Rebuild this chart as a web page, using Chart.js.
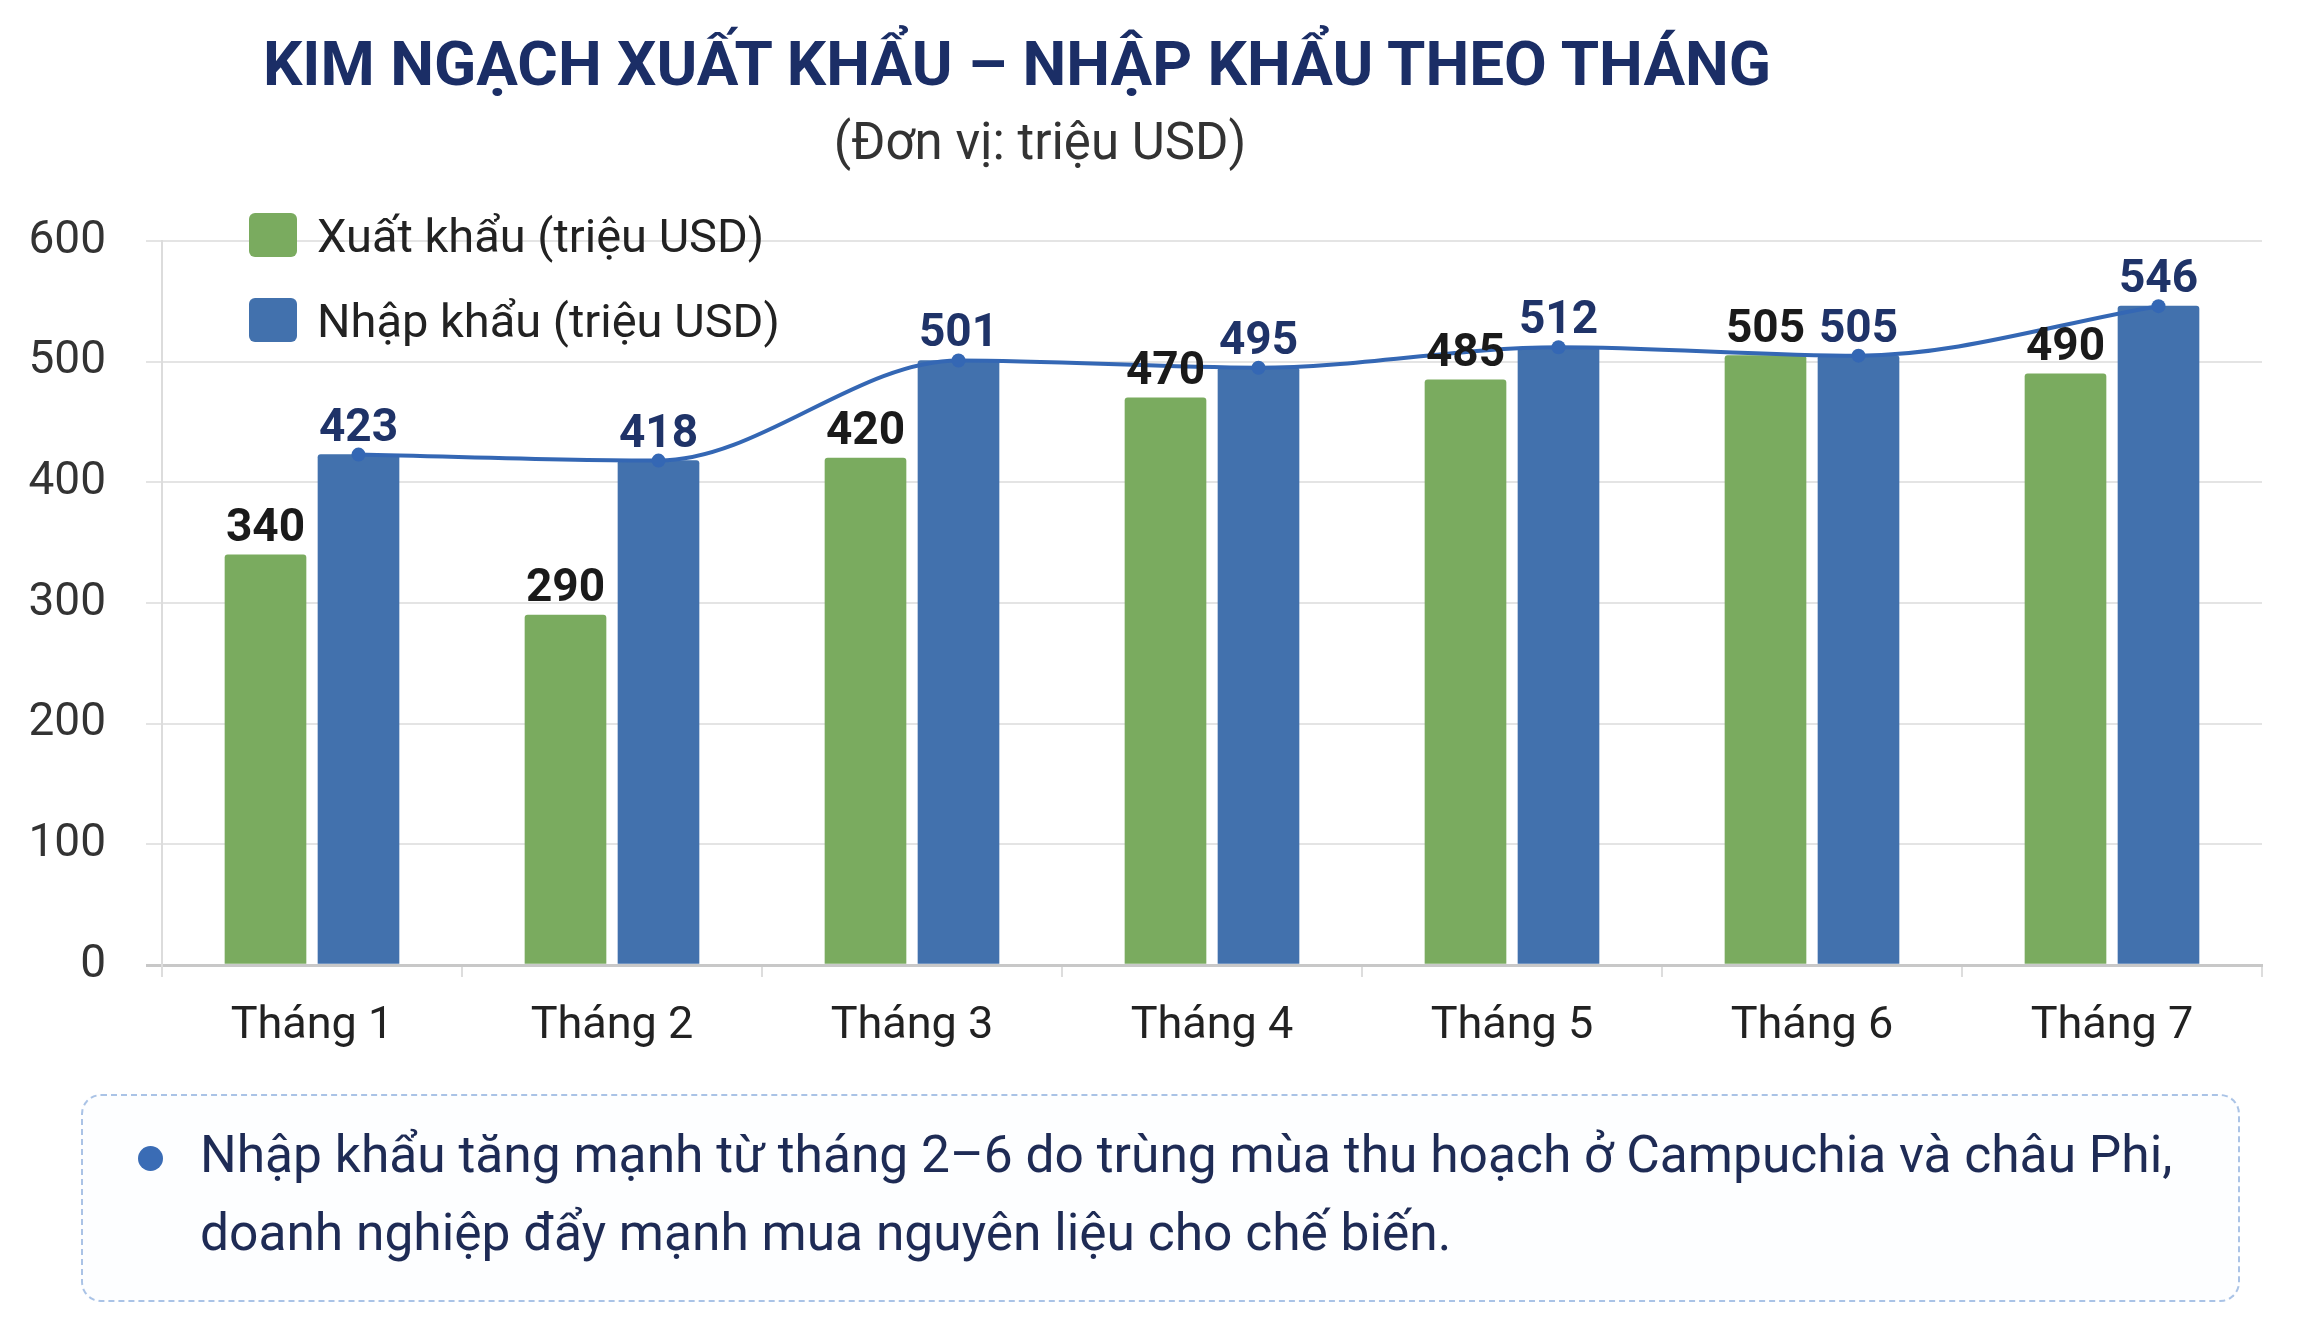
<!DOCTYPE html>
<html>
<head>
<meta charset="utf-8">
<script src="https://cdn.jsdelivr.net/npm/chart.js@4.4.1/dist/chart.umd.min.js"></script>
<style>
html,body{margin:0;padding:0;background:#ffffff;}
body{width:2300px;height:1336px;position:relative;overflow:hidden;font-family:Roboto,"Noto Sans",sans-serif;}
#title{position:absolute;left:0;width:2034px;top:33px;text-align:center;font-weight:700;font-size:62px;line-height:62px;color:#1b2e66;white-space:nowrap;}
#subtitle{position:absolute;left:0;width:2080px;top:116px;text-align:center;font-size:51px;line-height:51px;color:#333333;white-space:nowrap;}
#chartWrap{position:absolute;left:0;top:0;width:2300px;height:1090px;}
.leg{position:absolute;left:249px;height:50px;display:flex;align-items:center;font-size:47px;line-height:47px;color:#222222;white-space:nowrap;}
.leg .sw{width:48px;height:44px;border-radius:6px;margin-right:20px;flex:none;}
#note{position:absolute;left:81px;top:1094px;width:2159px;height:208px;border:2px dashed #aac3e6;border-radius:20px;box-sizing:border-box;background:#fdfeff;}
#note .dot{position:absolute;left:55px;top:50px;width:25px;height:25px;border-radius:50%;background:#3a6cb5;}
#note .txt{position:absolute;left:117px;top:20px;width:2030px;font-size:51.5px;line-height:78px;color:#1e2b55;white-space:nowrap;}
</style>
</head>
<body>
<div id="title">KIM NGẠCH XUẤT KHẨU – NHẬP KHẨU THEO THÁNG</div>
<div id="subtitle">(Đơn vị: triệu USD)</div>
<div id="chartWrap"><canvas id="c"></canvas></div>
<div id="legend"></div>
<div id="note"><div class="dot"></div><div class="txt">Nhập khẩu tăng mạnh từ tháng 2–6 do trùng mùa thu hoạch ở Campuchia và châu Phi,<br>doanh nghiệp đẩy mạnh mua nguyên liệu cho chế biến.</div></div>
<script>
// ---- data ----
const months = ['Tháng 1', 'Tháng 2', 'Tháng 3', 'Tháng 4', 'Tháng 5', 'Tháng 6', 'Tháng 7'];
const exportValues = [340, 290, 420, 470, 485, 505, 490];
const importValues = [423, 418, 501, 495, 512, 505, 546];
const seriesLabels = ['Xuất khẩu (triệu USD)', 'Nhập khẩu (triệu USD)'];
const yTickMin = 0, yTickMax = 600, yTickStep = 100;

// ---- style ----
const GREEN = '#7aab5f';
const BLUE = '#4271ad';
const LINE_BLUE = '#3467b4';
const BAR_PX = 81;        // bar thickness in px
const BAR_SHIFT = 0.155;  // half distance between paired bars, in category units

// legend (HTML)
const legendColors = [GREEN, BLUE];
const legendTops = [210, 295];
const legendEl = document.getElementById('legend');
seriesLabels.forEach((lab, i) => {
  const d = document.createElement('div');
  d.className = 'leg';
  d.style.top = legendTops[i] + 'px';
  const sw = document.createElement('span');
  sw.className = 'sw';
  sw.style.background = legendColors[i];
  const t = document.createElement('span');
  t.textContent = lab;
  d.appendChild(sw); d.appendChild(t);
  legendEl.appendChild(d);
});

const valueLabels = {
  id: 'valueLabels',
  afterDatasetsDraw(chart) {
    const ctx = chart.ctx;
    chart.data.datasets.forEach((ds, di) => {
      if (ds.type === 'line') return;
      const meta = chart.getDatasetMeta(di);
      ctx.save();
      ctx.font = 'bold 46px Roboto';
      ctx.fillStyle = ds.labelColor;
      ctx.textAlign = 'center';
      ctx.textBaseline = 'alphabetic';
      meta.data.forEach((el, i) => {
        ctx.fillText(String(ds.values[i]), el.x, el.y - 14);
      });
      ctx.restore();
    });
  }
};

new Chart(document.getElementById('c'), {
  type: 'bar',
  data: {
    labels: months,
    datasets: [
      {
        label: seriesLabels[0],
        values: exportValues,
        data: exportValues.map((v, i) => ({ x: i - BAR_SHIFT, y: v })),
        xAxisID: 'xb',
        grouped: false,
        barThickness: BAR_PX,
        backgroundColor: GREEN,
        borderRadius: 3,
        labelColor: '#1a1a1a',
        order: 1
      },
      {
        label: seriesLabels[1],
        values: importValues,
        data: importValues.map((v, i) => ({ x: i + BAR_SHIFT, y: v })),
        xAxisID: 'xb',
        grouped: false,
        barThickness: BAR_PX,
        backgroundColor: BLUE,
        borderRadius: 3,
        labelColor: '#1f3368',
        order: 1
      },
      {
        type: 'line',
        label: 'Nhập khẩu (đường)',
        data: importValues.map((v, i) => ({ x: i + BAR_SHIFT, y: v })),
        xAxisID: 'xb',
        borderColor: LINE_BLUE,
        borderWidth: 4,
        pointRadius: 7,
        pointBackgroundColor: LINE_BLUE,
        pointBorderWidth: 0,
        cubicInterpolationMode: 'monotone',
        fill: false,
        order: 0
      }
    ]
  },
  options: {
    responsive: true,
    maintainAspectRatio: false,
    animation: false,
    layout: { padding: { left: 0, top: 241, right: 38, bottom: 0 } },
    plugins: { legend: { display: false }, tooltip: { enabled: false }, title: { display: false } },
    scales: {
      x: {
        type: 'category',
        labels: months,
        offset: true,
        grid: { display: true, drawOnChartArea: false, offset: true, tickLength: 12, color: '#dddddd', lineWidth: 2 },
        border: { display: true, color: '#c8c8c8', width: 3 },
        ticks: { color: '#222222', font: { family: 'Roboto', size: 45 }, padding: 23 },
        afterFit(scale) { scale.height = 125; }
      },
      xb: {
        type: 'linear',
        axis: 'x',
        display: false,
        offset: false,
        min: -0.5,
        max: months.length - 0.5
      },
      y: {
        min: yTickMin,
        max: yTickMax,
        ticks: { stepSize: yTickStep, color: '#333333', font: { family: 'Roboto', size: 46 }, padding: 40 },
        grid: {
          color: (c) => (c.tick && c.tick.value === 0 ? '#c8c8c8' : '#e4e4e4'),
          lineWidth: (c) => (c.tick && c.tick.value === 0 ? 3 : 2),
          tickLength: 16
        },
        border: { display: true, color: '#dcdcdc', width: 2 },
        afterFit(scale) { scale.width = 162; }
      }
    }
  },
  plugins: [valueLabels]
});
</script>
</body>
</html>
